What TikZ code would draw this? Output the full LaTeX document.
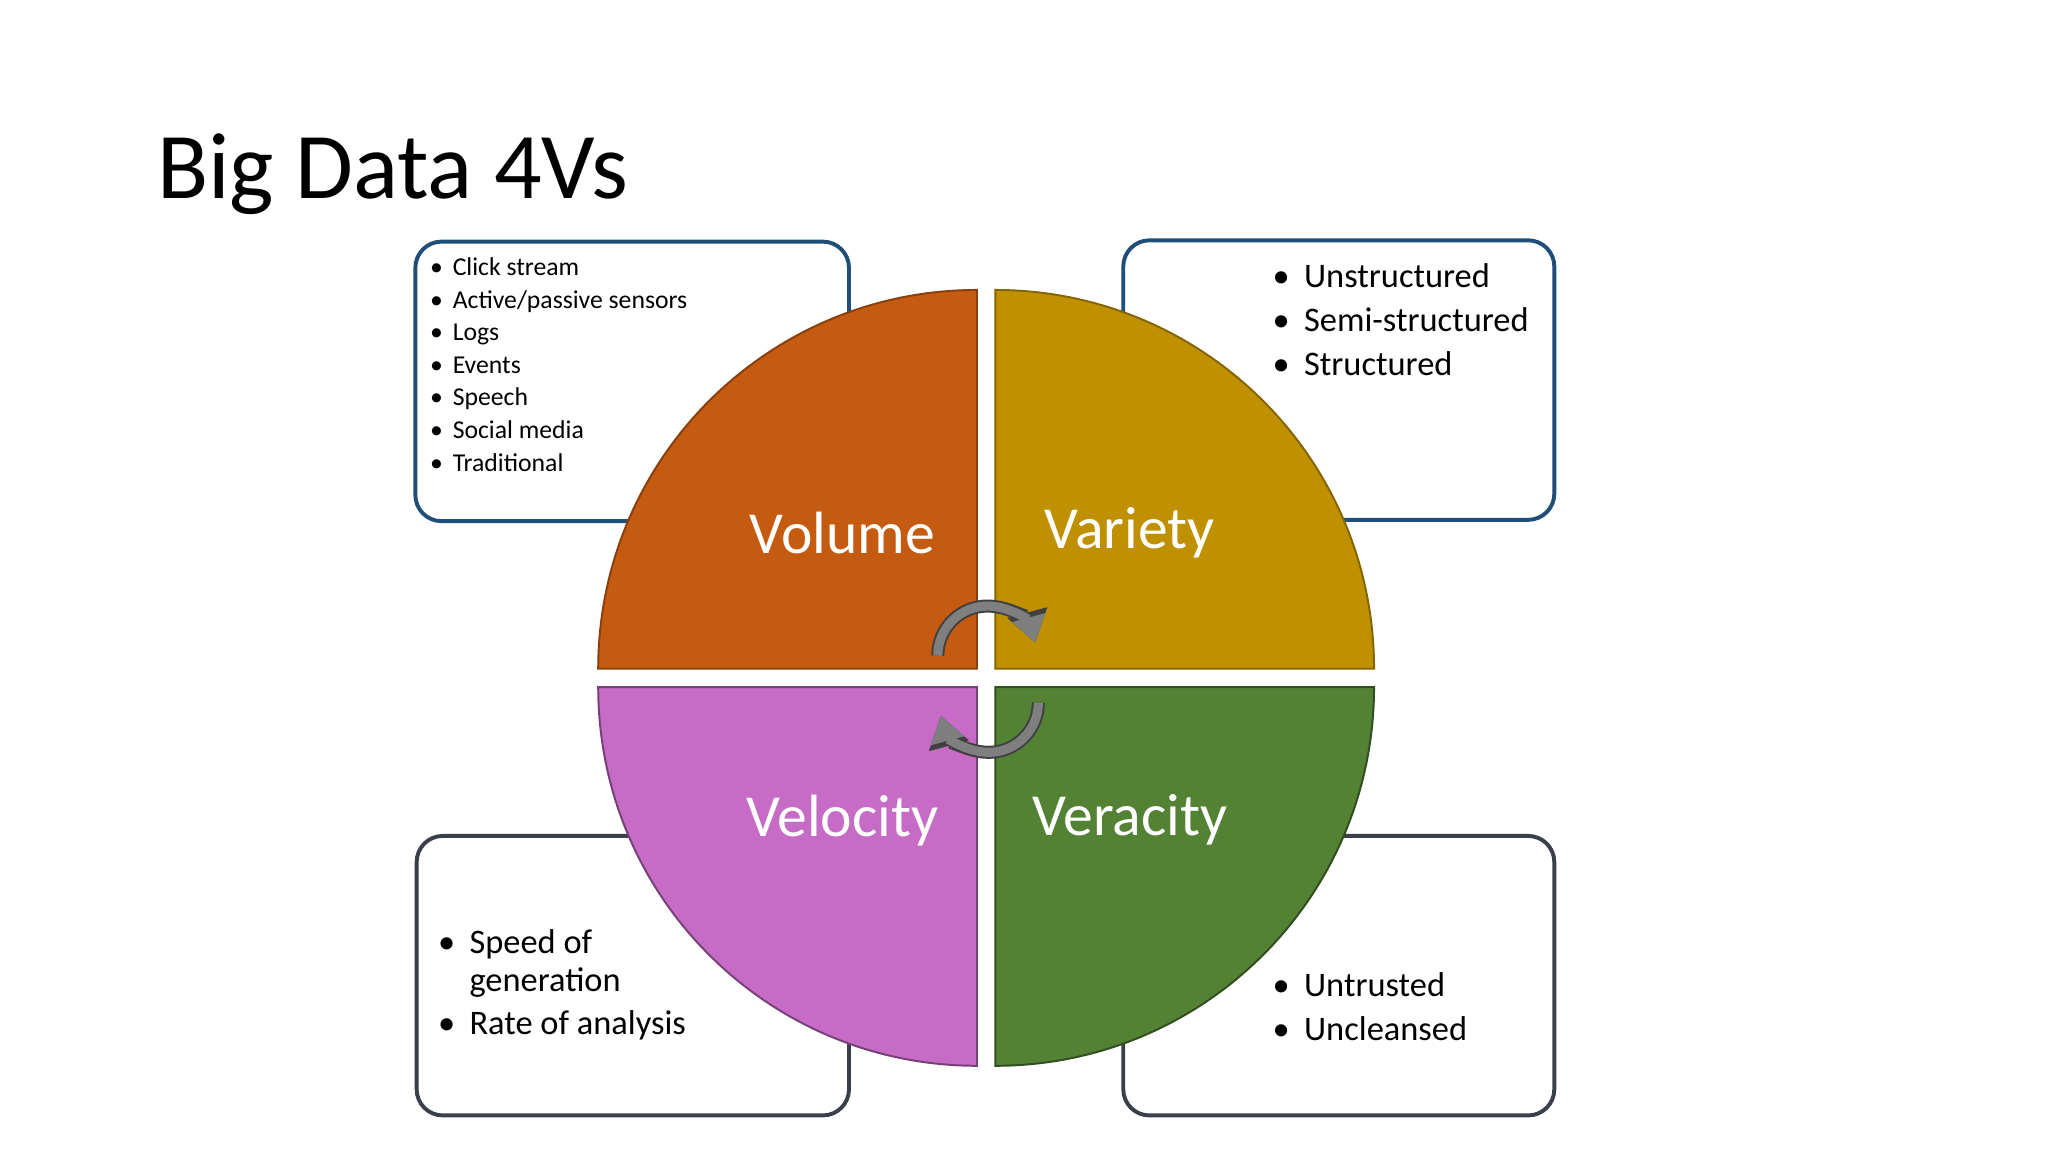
\documentclass[tikz,border=0pt]{standalone}
\usepackage{fontspec}
\setmainfont{Carlito}
\usetikzlibrary{arrows.meta}
\definecolor{volc}{HTML}{C55A11}
\definecolor{varc}{HTML}{BF9000}
\definecolor{velc}{HTML}{C66BC6}
\definecolor{verc}{HTML}{548235}
\definecolor{bluebd}{HTML}{1F4E79}
\definecolor{greybd}{HTML}{3B3F4A}
\definecolor{arrg}{HTML}{7F7F7F}
\definecolor{arrd}{HTML}{404040}
\tikzset{
  infobox/.style={rounded corners=0.4cm, line width=0.06cm, fill=white},
  quad/.style={line width=0.03cm},
  vlabel/.style={text=white, font=\fontsize{26}{30}\selectfont},
  cyc/.style={line width=0.14cm, draw=arrg, -{Triangle[length=0.4cm,width=0.5cm]},
    preaction={draw=arrd, line width=0.2cm, -{Triangle[length=0.48cm,width=0.6cm]}}},
}
\begin{document}
\begin{tikzpicture}[x=0.02cm,y=-0.02cm]
\useasboundingbox[fill=white] (0,0) rectangle (1568,882);
\node[anchor=base west, font=\fontsize{41}{48}\selectfont, inner sep=0] (title) at (120,152) {Big Data 4Vs};
% boxes
\draw[infobox, draw=bluebd] (318,185) rectangle (650,399);
\draw[infobox, draw=bluebd] (860,184) rectangle (1190,398);
\draw[infobox, draw=greybd] (319,640) rectangle (650,854);
\draw[infobox, draw=greybd] (860,640) rectangle (1190,854);
% quadrants
\draw[quad, fill=volc, draw=volc!70!black] (748,512) -- (458,512) arc[start angle=180, end angle=270, radius=290] -- cycle;
\draw[quad, fill=varc, draw=varc!70!black] (762,512) -- (762,222) arc[start angle=270, end angle=360, radius=290] -- cycle;
\draw[quad, fill=velc, draw=velc!60!black] (748,526) -- (458,526) arc[start angle=180, end angle=90, radius=290] -- cycle;
\draw[quad, fill=verc, draw=verc!60!black] (762,526) -- (1052,526) arc[start angle=0, end angle=90, radius=290] -- cycle;
\node[vlabel] (vol) at (645,408) {Volume};
\node[vlabel] (var) at (865,408) {Variety};
\node[vlabel] (vel) at (645,628) {Velocity};
\node[vlabel] (ver) at (865,628) {Veracity};
% cycle arrows
\draw[cyc] (718,502) arc[start angle=180, end angle=345, radius=38];
\draw[cyc] (795,538) arc[start angle=0, end angle=165, radius=38];
% lists
\node[anchor=base west, inner sep=0, font=\fontsize{11.2}{14.2}\selectfont] (l1) at (329,211)
 {\begin{tabular}[t]{@{}l@{\hspace{0.15cm}}l@{}}
 \textbullet & Click stream\\ \textbullet & Active/passive sensors\\ \textbullet & Logs\\
 \textbullet & Events\\ \textbullet & Speech\\ \textbullet & Social media\\ \textbullet & Traditional
 \end{tabular}};
\node[anchor=base west, inner sep=0, font=\fontsize{15}{19.3}\selectfont] (l2) at (974,220)
 {\begin{tabular}[t]{@{}l@{\hspace{0.22cm}}l@{}}
 \textbullet & Unstructured\\ \textbullet & Semi-structured\\ \textbullet & Structured
 \end{tabular}};
\node[anchor=base west, inner sep=0, font=\fontsize{15}{16.5}\selectfont] (l3) at (335,730)
 {\begin{tabular}[t]{@{}l@{\hspace{0.22cm}}l@{}}
 \textbullet & Speed of\\ & generation\\[2.5pt] \textbullet & Rate of analysis
 \end{tabular}};
\node[anchor=base west, inner sep=0, font=\fontsize{15}{19.3}\selectfont] (l4) at (974,763)
 {\begin{tabular}[t]{@{}l@{\hspace{0.22cm}}l@{}}
 \textbullet & Untrusted\\ \textbullet & Uncleansed
 \end{tabular}};
\end{tikzpicture}
\end{document}
